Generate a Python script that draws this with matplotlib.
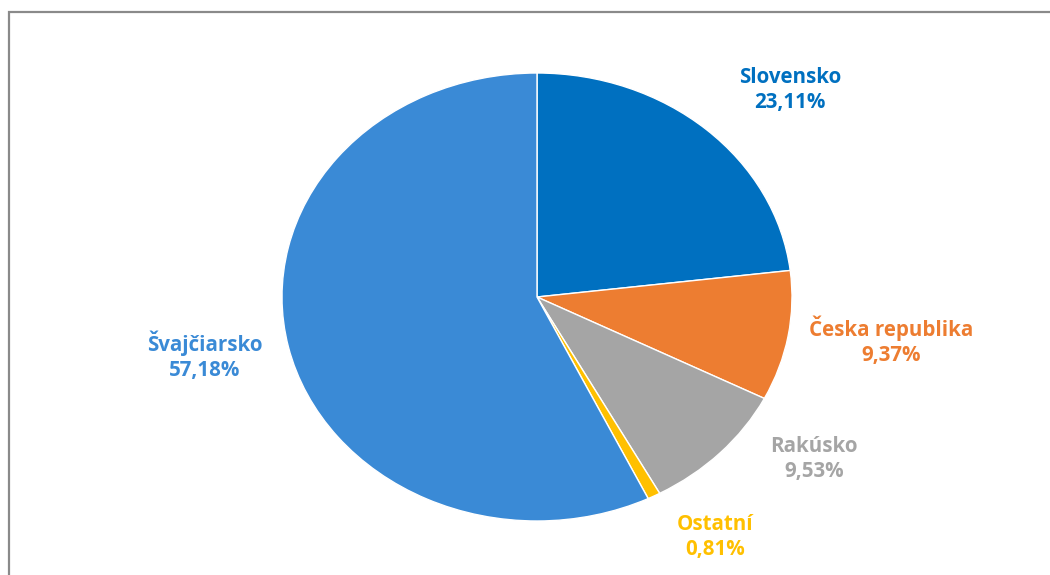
import matplotlib
matplotlib.use("Agg")
import matplotlib.pyplot as plt
from matplotlib.patches import Rectangle

categories = ["Slovensko", "Česka republika", "Rakúsko", "Ostatní", "Švajčiarsko"]
values = [23.11, 9.37, 9.53, 0.81, 57.18]
value_labels = ["23,11%", "9,37%", "9,53%", "0,81%", "57,18%"]
colors = ["#0070C0", "#ED7D31", "#A5A5A5", "#FFC000", "#3A8AD6"]
label_pos = [(790, 90), (891, 341), (814, 459), (715, 537), (205, 356)]

W, H = 1050, 575
fig = plt.figure(figsize=(W / 100, H / 100), dpi=100)
fig.patch.set_facecolor("white")

# frame
fig.patches.append(Rectangle((9 / W, -0.05), 1.2, (H - 12) / H + 0.05, transform=fig.transFigure,
                             fill=False, edgecolor="#8a8a8a", linewidth=1.6))

cx, cy, rx, ry = 537, 297, 255, 224
ax = fig.add_axes([(cx - rx) / W, (H - cy - ry) / H, 2 * rx / W, 2 * ry / H])
ax.pie(values, colors=colors, startangle=90, counterclock=False, radius=1,
       wedgeprops=dict(edgecolor="white", linewidth=1.0))
ax.set_aspect("auto")
ax.set_xlim(-1, 1)
ax.set_ylim(-1, 1)
ax.axis("off")

for cat, vl, col, (px, py) in zip(categories, value_labels, colors, label_pos):
    fig.text(px / W, 1 - py / H, f"{cat}\n{vl}", color=col, ha="center", va="center",
             fontsize=14.8, fontweight="bold", family=["Open Sans", "DejaVu Sans"],
             linespacing=1.25)

fig.savefig("out.png", dpi=100, facecolor="white")
